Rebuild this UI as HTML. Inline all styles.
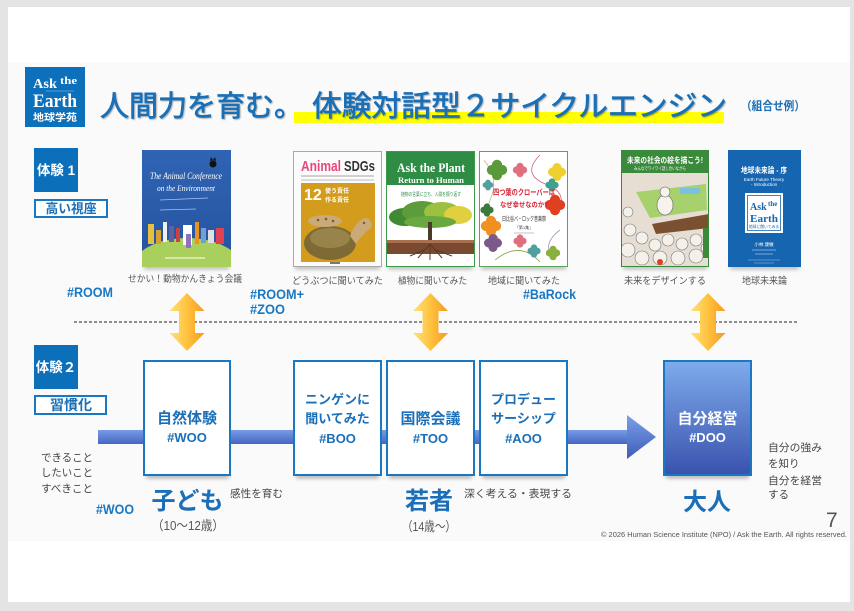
<!DOCTYPE html>
<html><head><meta charset="utf-8">
<style>
html,body{margin:0;padding:0;background:#e4e4e4;}
svg{display:block;}
.j{font-family:"Liberation Sans","Noto Sans CJK JP",sans-serif;}
.s{font-family:"Liberation Serif","Noto Serif CJK SC",serif;}
.b{font-weight:bold;}
</style></head>
<body>
<svg width="854" height="611" viewBox="0 0 854 611" xmlns="http://www.w3.org/2000/svg">
<defs>
  <linearGradient id="og" x1="0" y1="0" x2="1" y2="0">
    <stop offset="0" stop-color="#ffe27a"/><stop offset="0.5" stop-color="#ffc23e"/><stop offset="1" stop-color="#f59a20"/>
  </linearGradient>
  <linearGradient id="band" x1="0" y1="0" x2="0" y2="1">
    <stop offset="0" stop-color="#779ce6"/><stop offset="1" stop-color="#4566c2"/>
  </linearGradient>
  <linearGradient id="head" x1="0" y1="0" x2="0" y2="1">
    <stop offset="0" stop-color="#7ba0e8"/><stop offset="1" stop-color="#3f5db8"/>
  </linearGradient>
  <linearGradient id="doo" x1="0" y1="0" x2="0" y2="1">
    <stop offset="0" stop-color="#7eacec"/><stop offset="1" stop-color="#3a52ae"/>
  </linearGradient>
  <linearGradient id="b1" x1="0" y1="0" x2="0" y2="1">
    <stop offset="0" stop-color="#2f64b4"/><stop offset="1" stop-color="#24539f"/>
  </linearGradient>
  <filter id="blur" x="-20%" y="-200%" width="140%" height="500%"><feGaussianBlur stdDeviation="2.2"/></filter>
  <filter id="tsh" x="-5%" y="-20%" width="110%" height="150%"><feDropShadow dx="1" dy="1" stdDeviation="0.6" flood-color="#000" flood-opacity="0.3"/></filter>
  <clipPath id="c1"><rect x="142" y="150" width="89" height="117"/></clipPath>
  <clipPath id="c3"><rect x="386" y="151" width="89" height="116"/></clipPath>
  <clipPath id="c5"><rect x="621" y="150" width="88" height="117"/></clipPath>
  <g id="clv"><circle cx="-3" cy="0" r="3"/><circle cx="3" cy="0" r="3"/><circle cx="0" cy="-3" r="3"/><circle cx="0" cy="3" r="3"/></g>
</defs>

<!-- page -->
<rect width="854" height="611" fill="#e4e4e4"/>
<rect x="8" y="7" width="842" height="595" fill="#ffffff"/>
<rect x="8" y="62" width="842" height="479" fill="#fafafa"/>

<!-- logo -->
<rect x="25" y="67" width="60" height="60" fill="#0d70bb"/>
<text class="s b" x="33" y="88" font-size="14" fill="#fff" textLength="24" lengthAdjust="spacingAndGlyphs">Ask</text>
<text class="s b" x="60" y="84" font-size="10" fill="#fff" textLength="17" lengthAdjust="spacingAndGlyphs">the</text>
<line x1="46" y1="91" x2="74" y2="91" stroke="#9cc4e8" stroke-width="0.6"/>
<text class="s b" x="33" y="107" font-size="19" fill="#fff" textLength="44" lengthAdjust="spacingAndGlyphs">Earth</text>
<text class="j b" x="33" y="121" font-size="10" fill="#fff" textLength="44" lengthAdjust="spacingAndGlyphs">地球学苑</text>

<!-- title -->
<rect x="294" y="112" width="430" height="11" fill="#ffff00"/>
<g filter="url(#tsh)">
<text class="j" x="100" y="116" font-size="29" fill="#1a6fb6" stroke="#1a6fb6" stroke-width="0.7">人間力を育む。</text>
<text class="j" x="312" y="116" font-size="29" fill="#1a6fb6" stroke="#1a6fb6" stroke-width="0.7" textLength="415" lengthAdjust="spacingAndGlyphs">体験対話型２サイクルエンジン</text>
</g>
<text class="j b" x="741" y="110" font-size="12" fill="#1a6fb6" textLength="64" lengthAdjust="spacingAndGlyphs">（組合せ例）</text>

<!-- 体験1 labels -->
<rect x="34" y="148" width="44" height="44" fill="#0b6fba"/>
<text class="j b" x="56" y="175" font-size="13.5" fill="#fff" text-anchor="middle">体験 1</text>
<rect x="35" y="200" width="72" height="17" fill="#fff" stroke="#1a78c2" stroke-width="2"/>
<text class="j b" x="71" y="213" font-size="13" fill="#1a6fb6" text-anchor="middle" textLength="51" lengthAdjust="spacingAndGlyphs">高い視座</text>

<!-- book shadows -->
<g fill="#000" opacity="0.3" filter="url(#blur)">
  <rect x="144" y="265" width="85" height="4"/>
  <rect x="295" y="265" width="85" height="4"/>
  <rect x="388" y="265" width="85" height="4"/>
  <rect x="481" y="265" width="85" height="4"/>
  <rect x="623" y="265" width="84" height="4"/>
  <rect x="730" y="265" width="69" height="4"/>
</g>

<!-- Book 1 -->
<g clip-path="url(#c1)">
  <rect x="142" y="150" width="89" height="117" fill="url(#b1)"/>
  <text class="s" x="186" y="179" font-size="9" font-style="italic" fill="#fff" text-anchor="middle" textLength="72" lengthAdjust="spacingAndGlyphs">The Animal Conference</text>
  <text class="s" x="186" y="191" font-size="8" font-style="italic" fill="#fff" text-anchor="middle" textLength="58" lengthAdjust="spacingAndGlyphs">on the Environment</text>
  <circle cx="213" cy="164" r="3.5" fill="#111"/>
  <polygon points="210,161 211,157 213,160" fill="#111"/><polygon points="216,161 215,157 213,160" fill="#111"/>
  <line x1="160" y1="200" x2="208" y2="198" stroke="#a9c2ea" stroke-width="0.7"/>
  <line x1="160" y1="210" x2="196" y2="209" stroke="#a9c2ea" stroke-width="0.7"/>
  <ellipse cx="187" cy="270" rx="56" ry="32" fill="#a9d05c"/>
  <rect x="148" y="224" width="6" height="20" fill="#e8c040"/>
  <rect x="156" y="230" width="5" height="14" fill="#d8a030"/>
  <rect x="163" y="222" width="4" height="20" fill="#f0f0f0"/>
  <rect x="169" y="226" width="5" height="16" fill="#6060a0"/>
  <rect x="176" y="228" width="4" height="14" fill="#d04040"/>
  <rect x="183" y="225" width="9" height="20" fill="#ffffff"/>
  <rect x="186" y="234" width="5" height="14" fill="#9070c0"/>
  <rect x="195" y="222" width="4" height="22" fill="#f09020"/>
  <rect x="201" y="228" width="5" height="15" fill="#70a0d0"/>
  <rect x="208" y="230" width="6" height="13" fill="#e0e0e0"/>
  <rect x="216" y="228" width="8" height="16" fill="#e04050"/>
  <line x1="165" y1="258" x2="205" y2="258" stroke="#ffffff" stroke-width="1"/>
</g>

<!-- Book 2 -->
<rect x="293.5" y="151.5" width="88" height="115" fill="#fbfbfb" stroke="#a8a8a8"/>
<text class="j b" x="301" y="171" font-size="15" fill="#e8457f" textLength="40" lengthAdjust="spacingAndGlyphs">Animal</text>
<text class="j b" x="344" y="171" font-size="15" fill="#333" textLength="31" lengthAdjust="spacingAndGlyphs">SDGs</text>
<line x1="301" y1="176" x2="374" y2="176" stroke="#888" stroke-width="0.8"/>
<line x1="301" y1="180" x2="374" y2="180" stroke="#aaa" stroke-width="0.8"/>
<rect x="301" y="183" width="74" height="79" fill="#d49c1c"/>
<text class="j b" x="304" y="200" font-size="16" fill="#fff">12</text>
<text class="j b" x="325" y="193" font-size="6" fill="#fff">使う責任</text>
<text class="j b" x="325" y="202" font-size="6" fill="#fff">作る責任</text>
<ellipse cx="330" cy="243" rx="26" ry="17" fill="#7d6a35"/>
<ellipse cx="330" cy="238" rx="20" ry="10" fill="#98844a"/>
<path d="M350 236 Q356 220 366 218 Q373 220 371 228 Q364 232 356 244 Z" fill="#c9aa78"/>
<ellipse cx="325" cy="221" rx="17" ry="6" fill="#c9aa78"/>
<circle cx="318" cy="220" r="1.3" fill="#7a5a30"/><circle cx="326" cy="219" r="1.3" fill="#7a5a30"/><circle cx="333" cy="221" r="1.3" fill="#7a5a30"/><circle cx="364" cy="223" r="1.2" fill="#7a5a30"/>
<rect x="330" y="262" width="10" height="2" fill="#777"/>

<!-- Book 3 -->
<g clip-path="url(#c3)">
  <rect x="386" y="151" width="89" height="116" fill="#ffffff"/>
  <rect x="386" y="151" width="89" height="34" fill="#2e8c45"/>
  <text class="s b" x="431" y="172" font-size="13" fill="#fff" text-anchor="middle" textLength="68" lengthAdjust="spacingAndGlyphs">Ask the Plant</text>
  <text class="s b" x="431" y="183" font-size="8" fill="#fff" text-anchor="middle" textLength="66" lengthAdjust="spacingAndGlyphs">Return to Human</text>
  <text class="j" x="431" y="196" font-size="5" fill="#2e8c45" text-anchor="middle" textLength="60" lengthAdjust="spacingAndGlyphs">植物の言葉に立ち、人間を振り返す</text>
  <ellipse cx="405" cy="217" rx="16" ry="9" fill="#3f8a32"/>
  <ellipse cx="422" cy="212" rx="20" ry="11" fill="#5c9c3a"/>
  <ellipse cx="442" cy="212" rx="18" ry="10" fill="#9cc040"/>
  <ellipse cx="458" cy="215" rx="14" ry="9" fill="#e0d040"/>
  <ellipse cx="430" cy="222" rx="26" ry="6" fill="#6aa840"/>
  <rect x="428" y="222" width="4" height="22" fill="#4a3a2a"/>
  <rect x="386" y="240" width="89" height="14" fill="#7a4a30"/>
  <rect x="386" y="240" width="89" height="3" fill="#a87050"/>
  <path d="M430 244 L418 258 M430 244 L442 258 M430 244 L430 260 M424 250 L410 256 M436 250 L452 256" stroke="#5a3a22" stroke-width="1" fill="none"/>
</g>
<rect x="386.5" y="151.5" width="88" height="115" fill="none" stroke="#3e9a48"/>

<!-- Book 4 -->
<rect x="479.5" y="151.5" width="88" height="115" fill="#ffffff" stroke="#5aa55a"/>
<g fill="none" stroke-width="0.8">
  <path d="M484 160 Q500 180 490 200 Q482 220 500 240" stroke="#c9b08a"/>
  <path d="M540 155 Q520 175 548 185 Q566 192 560 210" stroke="#d06070"/>
  <path d="M495 260 Q520 240 540 262" stroke="#8aa040"/>
  <path d="M560 230 Q540 245 555 260" stroke="#b090c0"/>
</g>
<use href="#clv" transform="translate(497,170) scale(1.7)" fill="#5a9a3a"/>
<use href="#clv" transform="translate(520,170) scale(1.2)" fill="#e07080"/>
<use href="#clv" transform="translate(557,172) scale(1.5)" fill="#f0d030"/>
<use href="#clv" transform="translate(488,185) scale(0.9)" fill="#50a0a0"/>
<use href="#clv" transform="translate(552,185) scale(1.1)" fill="#40a090"/>
<use href="#clv" transform="translate(555,205) scale(1.7)" fill="#e04020"/>
<use href="#clv" transform="translate(487,210) scale(1.1)" fill="#3a7a3a"/>
<use href="#clv" transform="translate(491,226) scale(1.7)" fill="#f09020"/>
<use href="#clv" transform="translate(493,243) scale(1.5)" fill="#7a5a8a"/>
<use href="#clv" transform="translate(520,241) scale(1.1)" fill="#e07080"/>
<use href="#clv" transform="translate(534,251) scale(1.1)" fill="#50a0a0"/>
<use href="#clv" transform="translate(553,253) scale(1.2)" fill="#8ab040"/>
<text class="j b" x="524" y="195" font-size="8" fill="#d8283a" text-anchor="middle" textLength="62" lengthAdjust="spacingAndGlyphs">四つ葉のクローバーは</text>
<text class="j b" x="524" y="207" font-size="7" fill="#d8283a" text-anchor="middle" textLength="48" lengthAdjust="spacingAndGlyphs">なぜ幸せなのか?</text>
<text class="j" x="524" y="221" font-size="6" fill="#222" text-anchor="middle" textLength="44" lengthAdjust="spacingAndGlyphs">日比谷バ・ロック音楽祭</text>
<text class="j" x="524" y="229" font-size="4" fill="#444" text-anchor="middle">「第1集」</text>
<line x1="514" y1="233" x2="534" y2="233" stroke="#888" stroke-width="0.6"/>

<!-- Book 5 -->
<g clip-path="url(#c5)">
  <rect x="621" y="150" width="88" height="117" fill="#e6ded2"/>
  <rect x="621" y="150" width="88" height="23" fill="#3a8a3c"/>
  <text class="j b" x="665" y="163" font-size="8" fill="#fff" text-anchor="middle" textLength="76" lengthAdjust="spacingAndGlyphs">未来の社会の絵を描こう!</text>
  <text class="j" x="660" y="170" font-size="4.5" fill="#fff" text-anchor="middle" textLength="52" lengthAdjust="spacingAndGlyphs">みんなでワイワイ話し合いながら</text>
  <polygon points="636,192 706,184 707,210 650,218" fill="#a6d16c"/>
  <rect x="680" y="188" width="20" height="6" fill="#7ac0e0"/>
  <ellipse cx="665" cy="205" rx="8" ry="10" fill="#f6f2ec" stroke="#666" stroke-width="0.6"/>
  <circle cx="665" cy="192" r="5" fill="#f6f2ec" stroke="#666" stroke-width="0.6"/>
  <polygon points="652,224 709,214 709,228 656,234" fill="#7a5030"/>
  <g fill="#f4f0ea" stroke="#777" stroke-width="0.6">
    <circle cx="630" cy="230" r="6"/><circle cx="642" cy="238" r="6"/><circle cx="628" cy="250" r="7"/>
    <circle cx="655" cy="245" r="6"/><circle cx="668" cy="240" r="6"/><circle cx="682" cy="244" r="6"/>
    <circle cx="696" cy="240" r="6"/><circle cx="642" cy="258" r="7"/><circle cx="660" cy="258" r="7"/>
    <circle cx="678" cy="258" r="7"/><circle cx="696" cy="256" r="7"/><circle cx="706" cy="248" r="5"/>
    <circle cx="628" cy="212" r="5"/>
  </g>
  <circle cx="660" cy="262" r="3" fill="#e04020"/>
  <rect x="703" y="228" width="6" height="30" fill="#3a8a3c"/>
</g>
<rect x="621.5" y="150.5" width="87" height="116" fill="none" stroke="#3a8a3c"/>

<!-- Book 6 -->
<rect x="728" y="150" width="73" height="117" fill="#1565b0"/>
<text class="j b" x="764" y="173" font-size="8" fill="#fff" text-anchor="middle" textLength="46" lengthAdjust="spacingAndGlyphs">地球未来論 - 序</text>
<text class="j" x="764" y="181" font-size="4.5" fill="#fff" text-anchor="middle">Earth Future Theory</text>
<text class="j" x="764" y="186" font-size="4.5" fill="#fff" text-anchor="middle">- Introduction</text>
<rect x="745" y="193" width="38" height="40" fill="#fff"/>
<rect x="747.5" y="195.5" width="33" height="35" fill="none" stroke="#1565b0" stroke-width="0.8"/>
<text class="s b" x="750" y="210" font-size="10" fill="#1565b0">Ask</text>
<text class="s b" x="768" y="206" font-size="7" fill="#1565b0">the</text>
<text class="s b" x="764" y="222" font-size="11" fill="#1565b0" text-anchor="middle" textLength="28" lengthAdjust="spacingAndGlyphs">Earth</text>
<text class="j" x="764" y="228" font-size="3.8" fill="#1565b0" text-anchor="middle">地球に聞いてみる</text>
<text class="j" x="764" y="246" font-size="4.5" fill="#fff" text-anchor="middle">小林 康敏</text>
<line x1="752" y1="250" x2="776" y2="250" stroke="#9cc0e8" stroke-width="0.7"/>
<line x1="755" y1="254" x2="773" y2="254" stroke="#9cc0e8" stroke-width="0.7"/>
<line x1="748" y1="260" x2="780" y2="260" stroke="#9cc0e8" stroke-width="0.6"/>
<line x1="754" y1="263" x2="774" y2="263" stroke="#9cc0e8" stroke-width="0.6"/>

<!-- captions -->
<g class="j" font-size="9.5" fill="#555" text-anchor="middle">
  <text x="185" y="282" textLength="114" lengthAdjust="spacingAndGlyphs">せかい！動物かんきょう会議</text>
  <text x="337.5" y="284" textLength="91" lengthAdjust="spacingAndGlyphs">どうぶつに聞いてみた</text>
  <text x="432.5" y="284" textLength="69" lengthAdjust="spacingAndGlyphs">植物に聞いてみた</text>
  <text x="524" y="284" textLength="72" lengthAdjust="spacingAndGlyphs">地域に聞いてみた</text>
  <text x="665" y="284" textLength="82" lengthAdjust="spacingAndGlyphs">未来をデザインする</text>
  <text x="764.5" y="284" textLength="45" lengthAdjust="spacingAndGlyphs">地球未来論</text>
</g>

<!-- hashtags row 1 -->
<g class="j b" font-size="13.5" fill="#1a78c2">
  <text x="67" y="297" textLength="46" lengthAdjust="spacingAndGlyphs">#ROOM</text>
  <text x="250" y="299" textLength="54" lengthAdjust="spacingAndGlyphs">#ROOM+</text>
  <text x="250" y="314" textLength="35" lengthAdjust="spacingAndGlyphs">#ZOO</text>
  <text x="523" y="299" textLength="53" lengthAdjust="spacingAndGlyphs">#BaRock</text>
</g>

<!-- dashed line -->
<line x1="74" y1="322" x2="798" y2="322" stroke="#222" stroke-width="1" stroke-dasharray="3,2"/>

<!-- double arrows -->
<g fill="url(#og)">
  <polygon points="187,293 204.5,311 195,311 195,333 204.5,333 187,351 169.5,333 179,333 179,311 169.5,311"/>
  <polygon points="430.5,293 448,311 438.5,311 438.5,333 448,333 430.5,351 413,333 422.5,333 422.5,311 413,311"/>
  <polygon points="708,293 725.5,311 716,311 716,333 725.5,333 708,351 690.5,333 700,333 700,311 690.5,311"/>
</g>

<!-- 体験2 labels -->
<rect x="34" y="345" width="44" height="44" fill="#0b6fba"/>
<text class="j b" x="56" y="372" font-size="13.5" fill="#fff" text-anchor="middle">体験２</text>
<rect x="35" y="396" width="71" height="18" fill="#fff" stroke="#1a78c2" stroke-width="2"/>
<text class="j b" x="71" y="410" font-size="14" fill="#1a6fb6" text-anchor="middle" textLength="42" lengthAdjust="spacingAndGlyphs">習慣化</text>

<!-- main band arrow -->
<rect x="98" y="430" width="530" height="14" fill="url(#band)"/>
<polygon points="627,415 656,437 627,459" fill="url(#head)"/>

<!-- box shadows -->
<g fill="#000" opacity="0.35" filter="url(#blur)">
  <rect x="146" y="474" width="83" height="4"/>
  <rect x="296" y="474" width="83" height="4"/>
  <rect x="389" y="474" width="83" height="4"/>
  <rect x="482" y="474" width="83" height="4"/>
  <rect x="666" y="474" width="83" height="4"/>
</g>

<!-- boxes -->
<g fill="#fff" stroke="#1a78c2" stroke-width="2">
  <rect x="144" y="361" width="86" height="114"/>
  <rect x="294" y="361" width="87" height="114"/>
  <rect x="387" y="361" width="87" height="114"/>
  <rect x="480" y="361" width="87" height="114"/>
</g>
<rect x="664" y="361" width="87" height="114" fill="url(#doo)" stroke="#1a78c2" stroke-width="2"/>

<g class="j b" fill="#1a6fb8" text-anchor="middle">
  <text x="187" y="423" font-size="15">自然体験</text>
  <text x="187" y="442" font-size="13">#WOO</text>
  <text x="337.5" y="404" font-size="13">ニンゲンに</text>
  <text x="337.5" y="423" font-size="13">聞いてみた</text>
  <text x="337.5" y="443" font-size="13">#BOO</text>
  <text x="430.5" y="423.5" font-size="15">国際会議</text>
  <text x="430.5" y="443" font-size="13">#TOO</text>
  <text x="523.5" y="404" font-size="13">プロデュー</text>
  <text x="523.5" y="423" font-size="13">サーシップ</text>
  <text x="523.5" y="443" font-size="13">#AOO</text>
</g>
<g class="j b" fill="#fff" text-anchor="middle">
  <text x="707.5" y="423.5" font-size="15">自分経営</text>
  <text x="707.5" y="442" font-size="13">#DOO</text>
</g>

<!-- bottom texts -->
<g class="j" font-size="10.5" fill="#444">
  <text x="41" y="461" textLength="52" lengthAdjust="spacingAndGlyphs">できること</text>
  <text x="41" y="476" textLength="52" lengthAdjust="spacingAndGlyphs">したいこと</text>
  <text x="41" y="492" textLength="52" lengthAdjust="spacingAndGlyphs">すべきこと</text>
  <text x="230" y="497" textLength="53" lengthAdjust="spacingAndGlyphs">感性を育む</text>
  <text x="464" y="497" textLength="108" lengthAdjust="spacingAndGlyphs">深く考える・表現する</text>
  <text x="768" y="451" textLength="54" lengthAdjust="spacingAndGlyphs">自分の強み</text>
  <text x="768" y="467">を知り</text>
  <text x="768" y="484" textLength="54" lengthAdjust="spacingAndGlyphs">自分を経営</text>
  <text x="768" y="498">する</text>
</g>
<text class="j b" x="96" y="514" font-size="13.5" fill="#1a78c2" textLength="38" lengthAdjust="spacingAndGlyphs">#WOO</text>
<g class="j b" font-size="24" fill="#1a6fb8" text-anchor="middle">
  <text x="187.5" y="509">子ども</text>
  <text x="429" y="509">若者</text>
  <text x="707" y="510">大人</text>
</g>
<g class="j" font-size="13" fill="#555" text-anchor="middle">
  <text x="188" y="530" textLength="72" lengthAdjust="spacingAndGlyphs">（10〜12歳）</text>
  <text x="429" y="531" textLength="54" lengthAdjust="spacingAndGlyphs">（14歳〜）</text>
</g>
<text class="j" x="826" y="527" font-size="21" fill="#555">7</text>
<text class="j" x="601" y="537" font-size="7.5" fill="#555" textLength="246" lengthAdjust="spacingAndGlyphs">© 2026 Human Science Institute (NPO) / Ask the Earth. All rights reserved.</text>
</svg>
</body></html>
